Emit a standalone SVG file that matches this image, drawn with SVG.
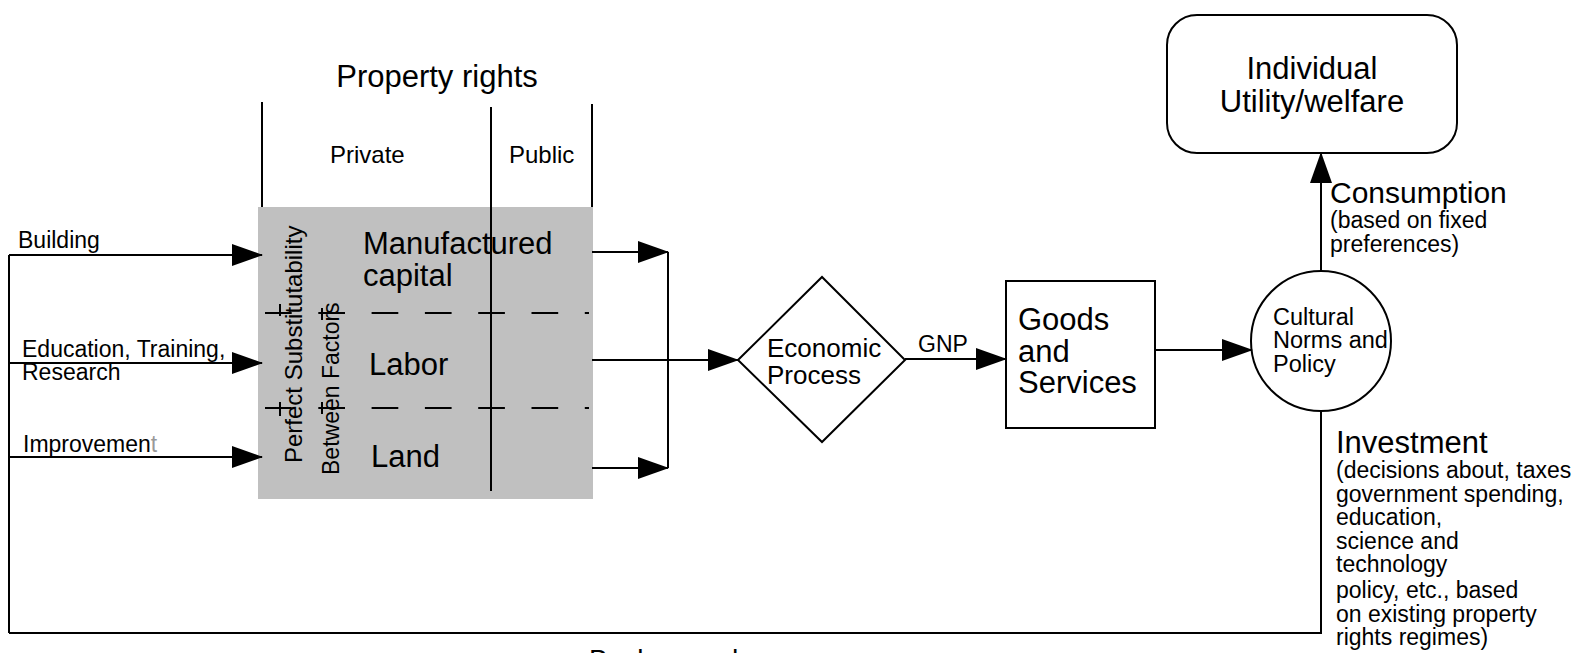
<svg xmlns="http://www.w3.org/2000/svg" width="1591" height="653" viewBox="0 0 1591 653">
<style>
text{font-family:"Liberation Sans",Arial,Helvetica,sans-serif;fill:#000}
.ln{fill:none;stroke:#000;stroke-width:2}
.shape{fill:#fff;stroke:#000;stroke-width:2}
.f31{font-size:31px}
.f24{font-size:24px}
.f23{font-size:23px}
</style>
<defs>
<marker id="ah" markerUnits="userSpaceOnUse" markerWidth="31" markerHeight="22" refX="30" refY="11" orient="auto">
<path d="M0,0 L31,11 L0,22 Z" fill="#000"/>
</marker>
</defs>
<rect width="1591" height="653" fill="#fff"/>

<g id="property-rights">
<text class="f31" x="437" y="87" text-anchor="middle">Property rights</text>
<line class="ln" x1="262" y1="102" x2="262" y2="207"/>
<line class="ln" x1="592" y1="104" x2="592" y2="207"/>
<text class="f24" x="330" y="163">Private</text>
<text class="f24" x="509" y="163">Public</text>
</g>

<g id="factors">
<rect x="258" y="207" width="335" height="292" fill="#c0c0c0"/>
<line class="ln" x1="265" y1="313" x2="589" y2="313" stroke-dasharray="26.7 26.6"/>
<line class="ln" x1="265" y1="408" x2="589" y2="408" stroke-dasharray="26.7 26.6"/>
<line class="ln" x1="280" y1="304" x2="280" y2="316"/>
<line class="ln" x1="322" y1="308" x2="322" y2="320"/>
<line class="ln" x1="280" y1="402" x2="280" y2="416"/>
<line class="ln" x1="322" y1="402" x2="322" y2="414"/>
<line class="ln" x1="491" y1="107" x2="491" y2="491"/>
<text class="f31" x="363" y="254">Manufactured</text>
<text class="f31" x="363" y="286">capital</text>
<text class="f31" x="369" y="375">Labor</text>
<text class="f31" x="371" y="467">Land</text>
<text class="f24" transform="translate(302,463) rotate(-90)">Perfect Substitutability</text>
<text class="f23" transform="translate(339,475) rotate(-90)">Between Factors</text>
</g>

<g id="inputs">
<text class="f23" x="18" y="248">Building</text>
<text class="f23" x="22" y="357">Education, Training,</text>
<text class="f23" x="22" y="380">Research</text>
<text class="f23" x="23" y="452">Improvemen<tspan fill="#999">t</tspan></text>
</g>

<g id="economic-process">
<polygon class="shape" points="738,360 822,277 905,360 822,442"/>
<text font-size="26" x="767" y="357">Economic</text>
<text font-size="26" x="767" y="384">Process</text>
</g>

<g id="goods-services">
<rect class="shape" x="1006" y="281" width="149" height="147"/>
<text class="f31" x="1018" y="330">Goods</text>
<text class="f31" x="1018" y="362">and</text>
<text class="f31" x="1018" y="393">Services</text>
</g>

<g id="cultural-norms">
<circle class="shape" cx="1321" cy="341" r="70"/>
<text font-size="23.5" x="1273" y="325">Cultural</text>
<text font-size="23.5" x="1273" y="348">Norms and</text>
<text font-size="23.5" x="1273" y="372">Policy</text>
</g>

<g id="utility">
<rect class="shape" x="1167" y="15" width="290" height="138" rx="30" ry="30"/>
<text class="f31" x="1312" y="79" text-anchor="middle">Individual</text>
<text class="f31" x="1312" y="112" text-anchor="middle">Utility/welfare</text>
</g>

<g id="connectors">
<line class="ln" x1="9" y1="255" x2="9" y2="633"/>
<line class="ln" x1="9" y1="255" x2="262" y2="255" marker-end="url(#ah)"/>
<line class="ln" x1="9" y1="363" x2="262" y2="363" marker-end="url(#ah)"/>
<line class="ln" x1="9" y1="457" x2="262" y2="457" marker-end="url(#ah)"/>
<line class="ln" x1="592" y1="252" x2="668" y2="252" marker-end="url(#ah)"/>
<line class="ln" x1="592" y1="360" x2="738" y2="360" marker-end="url(#ah)"/>
<line class="ln" x1="592" y1="468" x2="668" y2="468" marker-end="url(#ah)"/>
<line class="ln" x1="668" y1="252" x2="668" y2="468"/>
<line class="ln" x1="905" y1="359" x2="1006" y2="359" marker-end="url(#ah)"/>
<text class="f23" x="918" y="352">GNP</text>
<line class="ln" x1="1155" y1="350" x2="1252" y2="350" marker-end="url(#ah)"/>
<line class="ln" x1="1321" y1="271" x2="1321" y2="153" marker-end="url(#ah)"/>
<text font-size="30" x="1330" y="203">Consumption</text>
<text class="f23" x="1330" y="228">(based on fixed</text>
<text class="f23" x="1330" y="252">preferences)</text>
<polyline class="ln" points="1321,411 1321,633 9,633"/>
<text class="f31" x="1336" y="453">Investment</text>
<text class="f23" x="1336" y="478">(decisions about, taxes</text>
<text class="f23" x="1336" y="502">government spending,</text>
<text class="f23" x="1336" y="525">education,</text>
<text class="f23" x="1336" y="549">science and</text>
<text class="f23" x="1336" y="572">technology</text>
<text class="f23" x="1336" y="598">policy, etc., based</text>
<text class="f23" x="1336" y="622">on existing property</text>
<text class="f23" x="1336" y="645">rights regimes)</text>
<text font-size="28" x="589" y="669">Background</text>
</g>
</svg>
